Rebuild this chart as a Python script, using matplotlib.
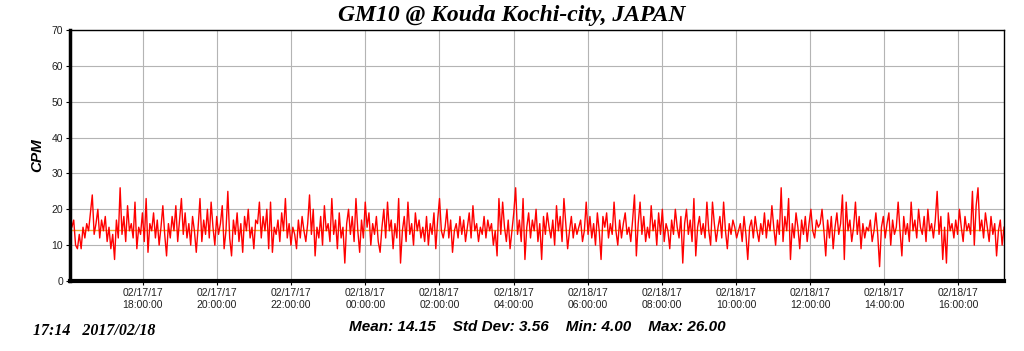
import numpy as np
import pandas as pd
import matplotlib
matplotlib.use("Agg")
import matplotlib.pyplot as plt
import matplotlib.dates as mdates

# counts per minute, one reading every 3 minutes (estimated from the chart)
seg1 = [18, 15, 17, 10, 9, 13, 9, 15, 12, 16, 14, 19, 24, 13, 16, 20, 12, 17, 14, 18,
        11, 15, 9, 13, 6, 17, 12, 26, 13, 18, 11, 21, 14, 16, 12, 22, 9, 15, 13, 19,
        11, 23, 8, 16, 14, 19, 12, 17, 10, 15, 21, 13, 7, 16, 12, 18, 14, 21, 11, 17,
        23, 13, 19, 12, 16, 10, 18, 14, 8, 15, 23, 11, 17, 13, 20, 12, 22, 15, 10, 18,
        13, 16, 21, 9, 14, 25, 12, 7, 17, 13, 19, 11, 16, 8, 18, 14, 20, 12, 15, 9, 17]
seg2 = [16, 22, 12, 18, 14, 20, 9, 22, 8, 15, 13, 17, 11, 19, 14, 23, 12, 16, 10, 15,
        13, 9, 17, 12, 18, 14, 11, 16, 24, 13, 20, 7, 15, 12, 18, 10, 21, 14, 16, 11,
        23, 13, 17, 9, 19, 12, 15, 5, 16, 20, 13, 18, 11, 23, 14, 8, 17, 12, 22, 15,
        19, 10, 16, 13, 18, 11, 8, 15, 20, 12, 22, 14, 17, 9, 16, 12, 23, 5, 14, 18,
        11, 22, 13, 16, 10, 19, 14, 17, 12, 15, 11, 18, 10, 16, 13, 19, 9, 17, 23, 14, 12]
seg3 = [15, 20, 12, 17, 8, 14, 16, 12, 18, 13, 17, 11, 15, 19, 12, 21, 14, 16, 11, 15,
        13, 18, 12, 17, 14, 16, 10, 14, 7, 23, 13, 22, 15, 11, 17, 9, 14, 19, 26, 13,
        17, 11, 23, 6, 15, 19, 12, 17, 14, 20, 11, 16, 6, 18, 13, 19, 15, 12, 17, 10,
        21, 14, 18, 11, 23, 16, 9, 14, 18, 12, 16, 13, 15, 17, 11, 14, 22, 13, 18, 12,
        16, 10, 19, 14, 6, 18, 15, 19, 12, 16, 13, 22, 14, 10, 17, 12, 16, 19, 13, 15, 11]
seg4 = [17, 24, 7, 16, 22, 13, 18, 11, 15, 12, 21, 14, 17, 10, 19, 13, 20, 11, 16, 14,
        9, 17, 13, 20, 15, 12, 18, 5, 16, 20, 13, 17, 11, 23, 7, 15, 18, 13, 16, 12,
        22, 14, 10, 22, 16, 11, 15, 18, 12, 22, 14, 9, 16, 13, 17, 15, 12, 14, 16, 11,
        18, 13, 6, 15, 17, 12, 18, 14, 11, 16, 13, 19, 12, 17, 14, 21, 15, 10, 17, 13,
        26, 11, 18, 14, 23, 6, 16, 12, 19, 15, 9, 17, 13, 18, 11, 16, 20, 14, 12, 17, 15]
seg5 = [16, 20, 14, 7, 17, 12, 18, 9, 15, 19, 13, 16, 24, 6, 22, 14, 17, 11, 15, 22,
        13, 18, 9, 16, 12, 15, 14, 17, 11, 14, 19, 13, 4, 15, 18, 12, 16, 19, 10, 17,
        13, 15, 22, 14, 7, 18, 13, 16, 11, 22, 14, 17, 12, 20, 15, 13, 18, 11, 20, 14,
        16, 12, 17, 25, 13, 18, 6, 15, 5, 19, 14, 16, 12, 17, 13, 20, 15, 11, 18, 14,
        16, 13, 25, 10, 21, 26, 14, 17, 12, 19, 15, 11, 18, 13, 16, 7, 14, 17, 10, 15]
cpm = seg1 + seg2 + seg3 + seg4 + seg5

start = pd.Timestamp("2017-02-17 16:02")
end = pd.Timestamp("2017-02-18 17:14")
times = pd.date_range(start, end, periods=len(cpm))

title = "GM10 @ Kouda Kochi-city, JAPAN"
stamp = "17:14   2017/02/18"
stats = "Mean: 14.15    Std Dev: 3.56    Min: 4.00    Max: 26.00"
mean_cpm = 14.15

fig = plt.figure(figsize=(10.24, 3.51), dpi=100)
ax = fig.add_axes([70 / 1024, 1 - 281 / 351, 934 / 1024, 251 / 351])

ax.axhline(mean_cpm, color="#f0a830", lw=1.0, zorder=1)
ax.plot(times, cpm, color="#ff0000", lw=1.0, zorder=2)

ax.set_xlim(start, end)
ax.set_ylim(0, 70)
ax.set_yticks(range(0, 71, 10))
ax.xaxis.set_major_locator(mdates.HourLocator(byhour=range(0, 24, 2)))
ax.xaxis.set_major_formatter(mdates.DateFormatter("%m/%d/%y\n%H:%M:%S"))
ax.grid(True, color="#b4b4b4", lw=0.8)
ax.set_axisbelow(True)

for lab in ax.get_xticklabels() + ax.get_yticklabels():
    lab.set_fontfamily("Liberation Sans")
    lab.set_fontsize(7.5)
    lab.set_color("#202020")
ax.tick_params(axis="both", direction="out", length=3, width=0.8, pad=2)

ax.spines["left"].set_linewidth(2.5)
ax.spines["bottom"].set_linewidth(3)
ax.spines["top"].set_linewidth(1)
ax.spines["right"].set_linewidth(1)

ax.set_ylabel("CPM", fontfamily="Liberation Sans", fontsize=11,
              fontweight="bold", fontstyle="italic", labelpad=5)

fig.text(512 / 1024, 1 - 16 / 351, title, ha="center", va="center",
         fontfamily="Liberation Serif", fontsize=17, fontweight="bold", fontstyle="italic")
fig.text(33 / 1024, 1 - 331 / 351, stamp, ha="left", va="center",
         fontfamily="Liberation Serif", fontsize=11.5, fontweight="bold", fontstyle="italic")
fig.text(537 / 1024, 1 - 327 / 351, stats, ha="center", va="center",
         fontfamily="Liberation Sans", fontsize=11, fontweight="bold", fontstyle="italic")

fig.savefig("out.png", dpi=100)
